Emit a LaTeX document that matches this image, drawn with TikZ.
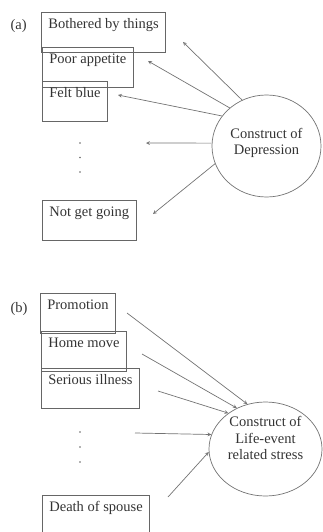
\documentclass[tikz,border=0pt]{standalone}
\usepackage{fontspec}
\setmainfont{Liberation Serif}
\usetikzlibrary{shapes.geometric}
\tikzset{
  item/.style={draw=black!60, line width=0.7pt, anchor=north west, inner xsep=7pt, inner ysep=0pt,
    text height=16.5pt, text depth=23.5pt, text=black!80},
  construct/.style={draw=black!55, line width=0.7pt, ellipse, inner sep=0pt, text=black!80},
  link/.style={draw=black!55, line width=0.7pt, ->}
}
\begin{document}
\begin{tikzpicture}[x=1pt, y=-1pt, >=stealth, font=\fontsize{14.5}{16.5}\selectfont]
  \useasboundingbox (0,0) rectangle (322,532);
  % (a) reflective indicators
  \node[anchor=base west, text=black!80] (la) at (7,30) {(a)};
  \node[item] (bother) at (41,12) {Bothered by things};
  \node[item] (appetite) at (42,47) {Poor appetite};
  \node[item] (blue) at (42,81) {Felt blue};
  \node[item] (going) at (42,200) {Not get going};
  \foreach \y in {143,157.5,172}
    \fill[black!60] (80,\y) circle (0.9pt);
  \node[construct, minimum width=109pt, minimum height=102pt,
    label={[align=center, text=black!80, yshift=3pt]center:Construct of\\Depression}] (dep) at (266.5,146) {};
  \coordinate (ea1) at (183,42);
  \coordinate (ea2) at (148,61);
  \coordinate (ea3) at (118,95);
  \coordinate (ea4) at (146,143);
  \coordinate (ea5) at (153,214);
  \draw[link] (dep.118) -- (ea1);
  \draw[link] (dep.134) -- (ea2);
  \draw[link] (dep.146) -- (ea3);
  \draw[link] (dep.177) -- (ea4);
  \draw[link] (dep.199) -- (ea5);
  % (b) formative indicators
  \node[anchor=base west, text=black!80] (lb) at (7,312) {(b)};
  \node[item] (promo) at (40,293) {Promotion};
  \node[item] (home) at (41,331) {Home move};
  \node[item] (ill) at (41,368) {Serious illness};
  \node[item] (death) at (42,495) {Death of spouse};
  \foreach \y in {432,447,462}
    \fill[black!60] (80,\y) circle (0.9pt);
  \node[construct, minimum width=113pt, minimum height=94pt,
    label={[align=center, text=black!80, yshift=11pt]center:Construct of\\Life-event\\related stress}] (stress) at (265.5,449) {};
  \coordinate (sb1) at (127,313);
  \coordinate (sb2) at (142,354);
  \coordinate (sb3) at (158,391);
  \coordinate (sb4) at (135,433);
  \coordinate (sb5) at (168,497);
  \draw[link] (sb1) -- (stress.112);
  \draw[link] (sb2) -- (stress.125);
  \draw[link] (sb3) -- (stress.136);
  \draw[link] (sb4) -- (stress.165);
  \draw[link] (sb5) -- (stress.183);
\end{tikzpicture}
\end{document}
